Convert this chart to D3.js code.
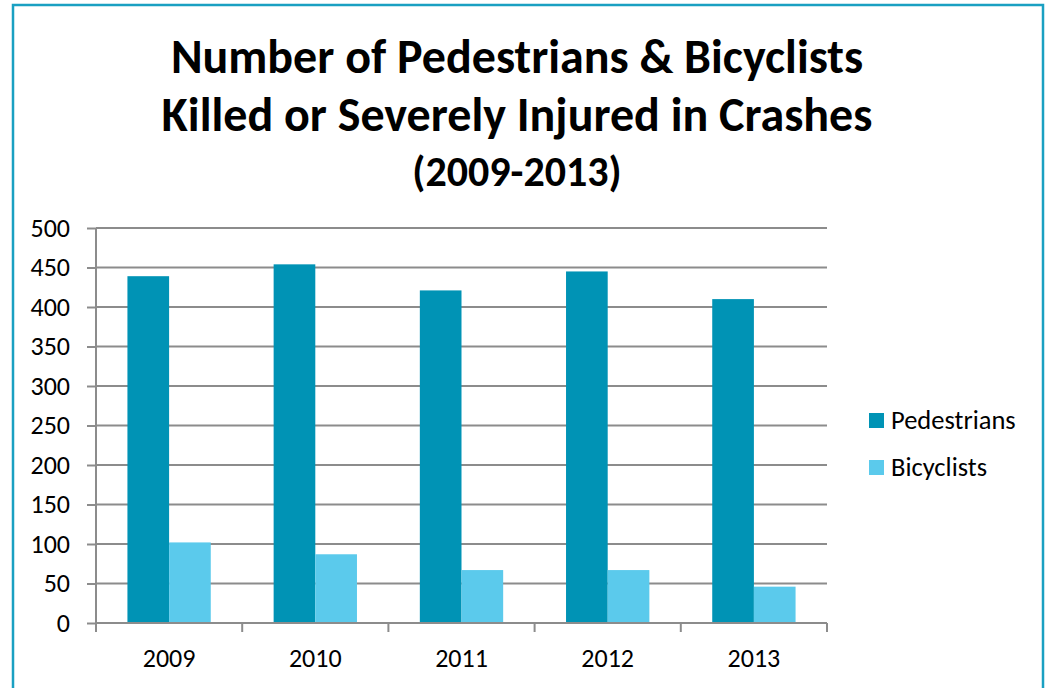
<!DOCTYPE html>
<html>
<head>
<meta charset="utf-8">
<script src="https://cdn.jsdelivr.net/npm/d3@7"></script>
<style>
  body { margin: 0; background: #fff; }
  svg { display: block; font-family: Carlito, Calibri, Lato, sans-serif; }
</style>
</head>
<body>
<div id="chart"></div>
<script>
// Data
const years = ['2009', '2010', '2011', '2012', '2013'];
const seriesNames = ['Pedestrians', 'Bicyclists'];
const pedestrians = [439, 454, 421, 445, 410];
const bicyclists = [102, 87, 67, 67, 46];
const yTicks = [0, 50, 100, 150, 200, 250, 300, 350, 400, 450, 500];
const titleLines = ['Number of Pedestrians & Bicyclists', 'Killed or Severely Injured in Crashes', '(2009-2013)'];

const width = 1045;
const height = 688;
const margin = { top: 228, right: 218, bottom: 65, left: 96 };
const colors = ['#0093B5', '#5BCAEC'];
const gridColor = '#8c8c8c';

const svg = d3.select('#chart')
    .append('svg')
    .attr('width', width)
    .attr('height', height);

// Outer border (bottom edge cut off like the original)
svg.append('rect')
    .attr('x', 13)
    .attr('y', 5)
    .attr('width', 1030)
    .attr('height', 720)
    .attr('fill', 'none')
    .attr('stroke', '#1AA0C2')
    .attr('stroke-width', 2.5);

// Title
svg.append('g')
    .selectAll('text')
    .data(titleLines)
    .enter()
    .append('text')
    .attr('x', 517)
    .attr('y', (d, i) => [73, 131, 186][i])
    .attr('text-anchor', 'middle')
    .attr('font-weight', 'bold')
    .attr('font-size', (d, i) => i < 2 ? 48 : 42)
    .attr('fill', '#000')
    .text(d => d);

// Scales
const x = d3.scaleBand()
    .domain(years)
    .range([margin.left, width - margin.right])
    .paddingInner(0.43)
    .paddingOuter(0.215);

const xSub = d3.scaleBand()
    .domain(seriesNames)
    .range([0, x.bandwidth()]);

const y = d3.scaleLinear()
    .domain([0, 500])
    .range([height - margin.bottom, margin.top]);

const table = years.map((yr, i) => ({ year: yr, values: [pedestrians[i], bicyclists[i]] }));

// Gridlines
svg.append('g')
    .selectAll('line')
    .data(yTicks.slice(1))
    .enter()
    .append('line')
    .attr('x1', margin.left)
    .attr('x2', width - margin.right)
    .attr('y1', d => y(d))
    .attr('y2', d => y(d))
    .attr('stroke', gridColor)
    .attr('stroke-width', 2);

// Bars
svg.append('g')
    .selectAll('g')
    .data(table)
    .enter()
    .append('g')
    .attr('transform', d => `translate(${x(d.year)},0)`)
    .selectAll('rect')
    .data(d => d.values.map((v, j) => ({ name: seriesNames[j], value: v, j })))
    .enter()
    .append('rect')
    .attr('x', d => xSub(d.name))
    .attr('y', d => y(d.value))
    .attr('width', xSub.bandwidth())
    .attr('height', d => y(0) - y(d.value))
    .attr('fill', d => colors[d.j]);

// Y axis
const yAxis = svg.append('g')
    .attr('transform', `translate(${margin.left},0)`)
    .call(d3.axisLeft(y).tickValues(yTicks).tickSize(9).tickPadding(17))
    .attr('font-family', null)
    .attr('font-size', 26);
yAxis.selectAll('line, path').attr('stroke', gridColor).attr('stroke-width', 2);
yAxis.select('.domain').attr('d', `M0,${y(500)}V${y(0)}`);
yAxis.selectAll('text').attr('fill', '#000');

// X axis
const xAxis = svg.append('g')
    .attr('transform', `translate(0,${y(0)})`)
    .call(d3.axisBottom(x).tickSize(0).tickPadding(26))
    .attr('font-family', null)
    .attr('font-size', 26);
xAxis.select('.domain').attr('stroke', gridColor).attr('stroke-width', 2)
    .attr('d', `M${margin.left},0H${width - margin.right}`);
xAxis.selectAll('text').attr('fill', '#000');

// Category boundary ticks
xAxis.selectAll('line.boundary')
    .data(d3.range(years.length + 1))
    .enter()
    .append('line')
    .attr('class', 'boundary')
    .attr('x1', i => margin.left + i * x.step())
    .attr('x2', i => margin.left + i * x.step())
    .attr('y1', 0)
    .attr('y2', 9)
    .attr('stroke', gridColor)
    .attr('stroke-width', 2);

// Legend
const legend = svg.append('g')
    .selectAll('g')
    .data(seriesNames)
    .enter()
    .append('g')
    .attr('transform', (d, i) => `translate(869,${413 + i * 47})`);

legend.append('rect')
    .attr('width', 15)
    .attr('height', 15)
    .attr('fill', (d, i) => colors[i]);

legend.append('text')
    .attr('x', 22)
    .attr('y', 16)
    .attr('font-size', 26.5)
    .attr('fill', '#000')
    .text(d => d);
</script>
</body>
</html>
